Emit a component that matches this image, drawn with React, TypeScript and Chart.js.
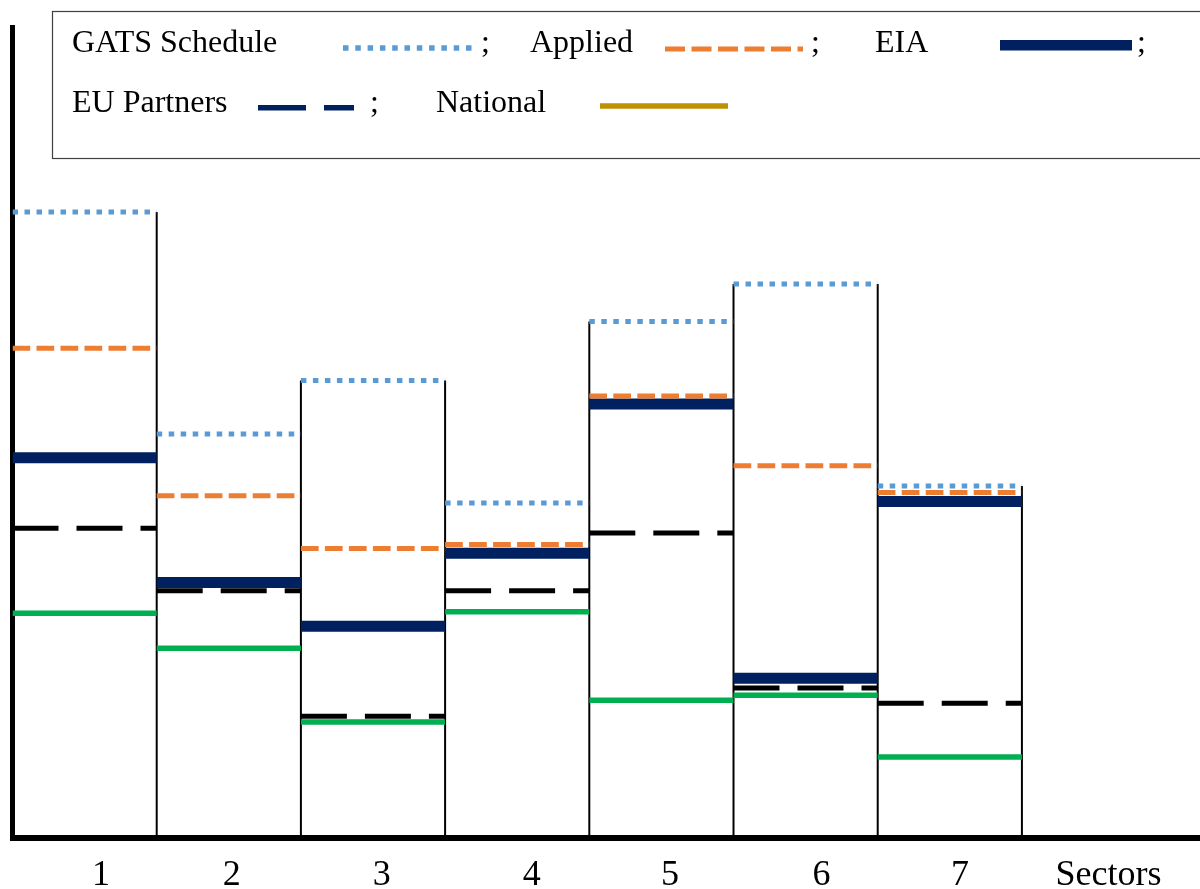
import React, { useEffect, useRef } from "react";
import { Chart, registerables } from "chart.js";

Chart.register(...registerables);

// ---- data ----
const sectors = ["1", "2", "3", "4", "5", "6", "7"];
const gatsSchedule = [77.2, 49.8, 56.4, 41.3, 63.7, 68.3, 43.4];
const applied = [60.4, 42.2, 35.7, 36.2, 54.5, 45.9, 42.6];
const eia = [46.9, 31.5, 26.1, 35.1, 53.5, 19.7, 41.5];
const euPartners = [38.2, 30.5, 15.0, 30.5, 37.6, 18.5, 16.6];
const national = [27.7, 23.4, 14.3, 27.9, 17.0, 17.6, 10.0];
const tickLabels = ["1", "2", "3", "4", "5", "6", "7", "Sectors"];
const tickValues = [0.614, 1.52, 2.56, 3.6, 4.56, 5.61, 6.57, 7.6];
const legendNames = ["GATS Schedule", "Applied", "EIA", "EU Partners", "National"];

type Pt = { x: number; y: number | null };

function steps(vals: number[]): Pt[] {
  const pts: Pt[] = [];
  vals.forEach((v, i) => {
    pts.push({ x: i, y: v }, { x: i + 1, y: v }, { x: i + 1, y: null });
  });
  return pts;
}

function boxLines(tops: number[]): Pt[] {
  const pts: Pt[] = [];
  for (let b = 1; b <= sectors.length; b++) {
    const top = Math.max(tops[b - 1], b < tops.length ? tops[b] : 0);
    pts.push({ x: b, y: 0 }, { x: b, y: top }, { x: b, y: null });
  }
  return pts;
}

const SERIF = '"Liberation Serif", "Times New Roman", serif';

const legendPlugin = {
  id: "customLegend",
  afterDraw(chart: any) {
    const ctx: CanvasRenderingContext2D = chart.ctx;
    ctx.save();
    ctx.setLineDash([]);
    ctx.strokeStyle = "#404040";
    ctx.lineWidth = 1.2;
    ctx.strokeRect(52.5, 11.5, 1170, 147);

    ctx.fillStyle = "#000";
    ctx.font = `32px ${SERIF}`;
    ctx.textBaseline = "alphabetic";
    ctx.textAlign = "left";
    // row 1
    ctx.fillText(legendNames[0], 72, 52);
    ctx.fillText(";", 481, 52);
    ctx.fillText(legendNames[1], 530, 52);
    ctx.fillText(";", 811, 52);
    ctx.fillText(legendNames[2], 875, 52);
    ctx.fillText(";", 1137, 52);
    // row 2
    ctx.fillText(legendNames[3], 72, 112);
    ctx.fillText(";", 370, 112);
    ctx.fillText(legendNames[4], 436, 112);

    const seg = (x1: number, x2: number, y: number, color: string, w: number, dash: number[]) => {
      ctx.beginPath();
      ctx.setLineDash(dash);
      ctx.lineCap = "butt";
      ctx.strokeStyle = color;
      ctx.lineWidth = w;
      ctx.moveTo(x1, y);
      ctx.lineTo(x2, y);
      ctx.stroke();
    };
    seg(343, 474, 48, "#5B9BD5", 5.5, [5.5, 6.8]);
    seg(665, 803, 49, "#ED7D31", 5, [20, 6.5]);
    seg(1000, 1132, 45.3, "#002060", 10.5, []);
    seg(258, 354, 107.7, "#002060", 5.5, [48, 18]);
    seg(600, 728, 106, "#BF9000", 5.5, []);
    ctx.restore();
  },
};

export default function App() {
  const ref = useRef<HTMLCanvasElement | null>(null);

  useEffect(() => {
    if (!ref.current) return;
    const common = {
      pointRadius: 0,
      pointHoverRadius: 0,
      tension: 0,
      fill: false,
      spanGaps: false,
      borderCapStyle: "butt" as const,
    };
    const chart = new Chart(ref.current, {
      type: "line",
      data: {
        datasets: [
          { ...common, label: legendNames[0], data: steps(gatsSchedule), borderColor: "#5B9BD5", borderWidth: 5, borderDash: [5.5, 6.5] },
          { ...common, label: legendNames[1], data: steps(applied), borderColor: "#ED7D31", borderWidth: 5, borderDash: [17.7, 6.3] },
          { ...common, label: legendNames[2], data: steps(eia), borderColor: "#002060", borderWidth: 11 },
          { ...common, label: legendNames[3], data: steps(euPartners), borderColor: "#000000", borderWidth: 5, borderDash: [46, 18] },
          { ...common, label: legendNames[4], data: steps(national), borderColor: "#00B050", borderWidth: 5.5 },
          { ...common, label: "boxes", data: boxLines(gatsSchedule), borderColor: "#000000", borderWidth: 2 },
        ] as any,
      },
      options: {
        responsive: false,
        animation: false,
        devicePixelRatio: 1,
        events: [],
        layout: { padding: { top: 27, left: 0, right: 0, bottom: 0 } },
        plugins: {
          legend: { display: false },
          tooltip: { enabled: false },
          title: { display: false },
        },
        scales: {
          x: {
            type: "linear",
            min: 0,
            max: 8.235,
            grid: { display: false, drawTicks: false },
            border: { display: true, width: 6, color: "#000" },
            afterFit: (s: any) => {
              s.height = 51;
            },
            afterBuildTicks: (s: any) => {
              s.ticks = tickValues.map((v) => ({ value: v }));
            },
            ticks: {
              autoSkip: false,
              maxRotation: 0,
              minRotation: 0,
              padding: 16,
              color: "#000",
              font: { family: SERIF, size: 36 },
              callback: (_v: any, i: number) => tickLabels[i],
            },
          },
          y: {
            type: "linear",
            min: 0,
            max: 100,
            grid: { display: false, drawTicks: false },
            border: { display: true, width: 5, color: "#000" },
            ticks: { display: false },
            afterFit: (s: any) => {
              s.width = 12.5;
            },
          },
        },
      } as any,
      plugins: [legendPlugin],
    });
    return () => chart.destroy();
  }, []);

  return (
    <div style={{ position: "fixed", left: 0, top: 0, width: 1200, height: 889, background: "#fff" }}>
      <canvas ref={ref} width={1200} height={889} style={{ display: "block" }} />
    </div>
  );
}
